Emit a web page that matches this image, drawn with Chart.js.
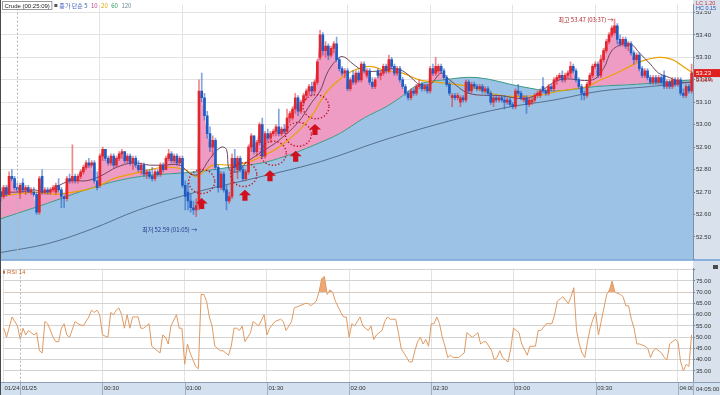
<!DOCTYPE html>
<html>
<head>
<meta charset="utf-8">
<title>Crude 1분봉</title>
<script src="https://cdn.jsdelivr.net/npm/chart.js@4.4.1/dist/chart.umd.min.js"></script>
<style>
  html, body { margin: 0; padding: 0; background: #fff; overflow: hidden; }
  #wrap { position: relative; width: 720px; height: 395px; }
  #priceCanvas { position: absolute; left: 0; top: 0; }
  #rsiCanvas { position: absolute; left: 0; top: 264px; }
  #edge { position: absolute; left: 0; top: 0; width: 1px; height: 395px; background: #4a4a4a; }
</style>
</head>
<body>
<div id="wrap">
  <canvas id="priceCanvas" width="720" height="264"></canvas>
  <canvas id="rsiCanvas" width="720" height="131"></canvas>
  <div id="edge"></div>
</div>
<script>
// 1-minute candles, minute 0 = 01/25 00:00, first candle at minute -6
const T0 = -6;
const X_MIN = -6.3, X_MAX = 245.5;

const opens = [
  52.70,52.68,52.72,52.69,52.77,52.76,52.72,52.70,52.74,52.71,52.72,52.70,
  52.70,52.69,52.61,52.77,52.70,52.71,52.70,52.71,52.70,52.73,52.71,52.68,
  52.67,52.76,52.75,52.77,52.75,52.77,52.79,52.81,52.83,52.82,52.83,52.75,
  52.73,52.86,52.89,52.85,52.83,52.86,52.82,52.85,52.87,52.88,52.84,52.86,
  52.83,52.85,52.82,52.80,52.82,52.78,52.79,52.77,52.76,52.79,52.78,52.82,
  52.80,52.85,52.87,52.84,52.86,52.83,52.85,52.73,52.70,52.66,52.63,52.62,
  52.64,53.15,53.12,53.04,52.96,52.90,52.93,52.81,52.72,52.78,52.71,52.66,
  52.68,52.85,52.80,52.85,52.80,52.76,52.79,52.90,52.95,52.88,52.92,53.00,
  52.86,52.96,52.94,52.96,52.97,52.99,52.96,52.98,52.97,53.03,53.03,53.07,
  53.12,53.06,53.10,53.13,53.15,53.17,53.15,53.19,53.30,53.40,53.33,53.35,
  53.31,53.34,53.36,53.29,53.25,53.23,53.24,53.16,53.22,53.19,53.23,53.20,
  53.27,53.22,53.24,53.19,53.17,53.24,53.22,53.23,53.26,53.24,53.29,53.26,
  53.23,53.25,53.20,53.17,53.14,53.12,53.15,53.14,53.17,53.18,53.16,53.17,
  53.15,53.25,53.23,53.24,53.26,53.24,53.21,53.18,53.12,53.13,53.12,53.10,
  53.12,53.11,53.19,53.15,53.18,53.17,53.16,53.17,53.15,53.16,53.14,53.10,
  53.12,53.11,53.12,53.11,53.10,53.11,53.09,53.08,53.15,53.14,53.11,53.12,
  53.09,53.10,53.11,53.13,53.13,53.17,53.15,53.14,53.17,53.16,53.20,53.21,
  53.22,53.20,53.22,53.23,53.26,53.24,53.20,53.17,53.14,53.13,53.18,53.22,
  53.26,53.27,53.22,53.29,53.33,53.37,53.40,53.41,53.44,53.38,53.36,53.38,
  53.35,53.36,53.32,53.29,53.31,53.25,53.22,53.24,53.21,53.19,53.21,53.19,
  53.21,53.22,53.17,53.19,53.17,53.20,53.18,53.20,53.14,53.13,53.17,53.15
];
const highs = [
  52.72,52.73,52.73,52.79,52.80,52.77,52.74,52.74,52.76,52.73,52.73,52.72,
  52.72,52.70,52.77,52.80,52.72,52.72,52.72,52.73,52.74,52.76,52.72,52.69,
  52.77,52.78,52.91,52.78,52.78,52.80,52.82,52.84,52.85,52.84,52.84,52.79,
  52.87,52.90,52.89,52.86,52.87,52.87,52.86,52.88,52.89,52.88,52.87,52.87,
  52.86,52.86,52.84,52.83,52.83,52.80,52.80,52.81,52.80,52.80,52.83,52.83,
  52.86,52.89,52.88,52.87,52.87,52.86,52.86,52.75,52.74,52.69,52.66,52.67,
  53.20,53.23,53.14,53.06,52.99,52.95,52.94,52.82,52.79,52.79,52.73,52.70,
  52.87,52.89,52.86,52.86,52.81,52.80,52.91,52.96,52.95,52.93,53.01,53.03,
  52.97,52.98,52.97,52.98,53.00,53.07,52.99,53.00,53.07,53.06,53.08,53.14,
  53.13,53.11,53.14,53.16,53.18,53.19,53.20,53.29,53.42,53.41,53.37,53.36,
  53.35,53.37,53.39,53.30,53.26,53.25,53.25,53.21,53.24,53.24,53.24,53.28,
  53.28,53.25,53.25,53.21,53.21,53.25,53.24,53.27,53.27,53.31,53.30,53.27,
  53.26,53.26,53.21,53.18,53.15,53.16,53.16,53.18,53.20,53.19,53.18,53.18,
  53.26,53.27,53.30,53.27,53.27,53.25,53.22,53.19,53.14,53.14,53.14,53.13,
  53.13,53.20,53.20,53.19,53.19,53.18,53.18,53.18,53.17,53.17,53.15,53.13,
  53.13,53.13,53.13,53.13,53.12,53.12,53.10,53.16,53.18,53.15,53.13,53.13,
  53.12,53.12,53.14,53.15,53.16,53.21,53.16,53.18,53.18,53.21,53.22,53.23,
  53.24,53.23,53.24,53.28,53.27,53.25,53.21,53.18,53.15,53.19,53.23,53.27,
  53.28,53.28,53.31,53.34,53.38,53.41,53.44,53.47,53.45,53.40,53.39,53.39,
  53.37,53.37,53.33,53.32,53.32,53.26,53.25,53.25,53.22,53.22,53.22,53.22,
  53.22,53.24,53.20,53.20,53.21,53.21,53.21,53.21,53.16,53.18,53.18,53.27
];
const lows = [
  52.66,52.67,52.68,52.69,52.75,52.71,52.70,52.67,52.70,52.69,52.70,52.69,
  52.68,52.60,52.60,52.69,52.69,52.69,52.69,52.70,52.69,52.70,52.63,52.63,
  52.66,52.74,52.74,52.74,52.74,52.76,52.78,52.80,52.81,52.81,52.74,52.71,
  52.72,52.84,52.84,52.82,52.82,52.81,52.81,52.84,52.85,52.83,52.83,52.82,
  52.80,52.81,52.79,52.78,52.77,52.76,52.76,52.75,52.75,52.77,52.77,52.79,
  52.80,52.84,52.83,52.83,52.82,52.82,52.72,52.62,52.62,52.61,52.60,52.59,
  52.62,53.10,53.02,52.94,52.88,52.86,52.80,52.70,52.71,52.70,52.62,52.65,
  52.67,52.79,52.76,52.79,52.75,52.75,52.78,52.88,52.87,52.86,52.91,52.85,
  52.85,52.93,52.92,52.95,52.95,52.95,52.95,52.96,52.96,53.01,53.02,53.05,
  53.04,53.05,53.09,53.11,53.13,53.13,53.14,53.18,53.29,53.31,53.30,53.29,
  53.30,53.32,53.28,53.24,53.22,53.21,53.15,53.15,53.18,53.18,53.19,53.19,
  53.23,53.21,53.18,53.16,53.16,53.21,53.20,53.22,53.23,53.23,53.25,53.22,
  53.22,53.19,53.16,53.13,53.11,53.11,53.13,53.13,53.16,53.15,53.15,53.14,
  53.14,53.22,53.22,53.23,53.23,53.20,53.17,53.13,53.08,53.11,53.11,53.08,
  53.10,53.10,53.14,53.14,53.16,53.15,53.15,53.14,53.14,53.13,53.09,53.08,
  53.10,53.10,53.10,53.07,53.09,53.08,53.07,53.07,53.13,53.11,53.10,53.05,
  53.08,53.09,53.10,53.12,53.12,53.14,53.13,53.13,53.15,53.15,53.18,53.20,
  53.19,53.19,53.21,53.21,53.23,53.19,53.16,53.11,53.11,53.12,53.17,53.21,
  53.25,53.21,53.21,53.28,53.32,53.36,53.39,53.40,53.36,53.35,53.35,53.34,
  53.33,53.31,53.27,53.28,53.24,53.21,53.21,53.20,53.18,53.18,53.18,53.18,
  53.18,53.16,53.16,53.16,53.16,53.17,53.17,53.13,53.12,53.12,53.14,53.14
];
const closes = [
  52.68,52.72,52.69,52.77,52.76,52.72,52.71,52.73,52.71,52.72,52.70,52.71,
  52.69,52.61,52.76,52.70,52.71,52.70,52.71,52.72,52.73,52.71,52.68,52.67,
  52.76,52.75,52.77,52.75,52.77,52.79,52.81,52.83,52.82,52.83,52.75,52.72,
  52.86,52.89,52.85,52.83,52.86,52.82,52.85,52.87,52.88,52.84,52.86,52.83,
  52.85,52.82,52.80,52.82,52.78,52.79,52.77,52.76,52.79,52.78,52.82,52.80,
  52.85,52.87,52.84,52.86,52.83,52.85,52.73,52.68,52.66,52.63,52.62,52.64,
  53.15,53.12,53.04,52.96,52.90,52.93,52.81,52.72,52.78,52.71,52.66,52.68,
  52.85,52.81,52.85,52.80,52.76,52.79,52.90,52.95,52.88,52.92,53.00,52.86,
  52.96,52.94,52.96,52.97,52.99,52.96,52.98,52.97,53.03,53.05,53.07,53.12,
  53.06,53.10,53.13,53.15,53.17,53.15,53.19,53.28,53.40,53.33,53.35,53.31,
  53.34,53.36,53.29,53.25,53.23,53.24,53.16,53.20,53.19,53.23,53.20,53.27,
  53.24,53.24,53.19,53.17,53.20,53.22,53.23,53.26,53.24,53.29,53.26,53.23,
  53.25,53.20,53.17,53.14,53.12,53.15,53.14,53.17,53.18,53.16,53.17,53.15,
  53.25,53.23,53.26,53.26,53.24,53.21,53.18,53.14,53.13,53.12,53.13,53.12,
  53.11,53.19,53.15,53.18,53.17,53.16,53.17,53.15,53.16,53.14,53.10,53.12,
  53.11,53.12,53.11,53.10,53.11,53.09,53.08,53.15,53.14,53.12,53.12,53.09,
  53.11,53.11,53.13,53.14,53.15,53.15,53.14,53.17,53.16,53.20,53.21,53.22,
  53.20,53.22,53.23,53.26,53.24,53.20,53.17,53.14,53.13,53.18,53.22,53.26,
  53.27,53.22,53.29,53.33,53.37,53.40,53.43,53.44,53.38,53.36,53.38,53.35,
  53.36,53.32,53.29,53.31,53.25,53.22,53.24,53.21,53.19,53.21,53.19,53.21,
  53.19,53.17,53.19,53.17,53.20,53.18,53.20,53.14,53.13,53.17,53.15,53.23
];

// moving averages (minute, price)
const ma60T = [-6.3, 11, 30, 45, 65, 77, 89, 95, 102, 108, 117, 126, 134, 139, 146, 155, 167, 183, 195, 210, 225, 245.5];
const ma60V = [52.58, 52.65, 52.73, 52.77, 52.79, 52.81, 52.83, 52.85, 52.88, 52.91, 52.96, 53.03, 53.08, 53.12, 53.18, 53.20, 53.21, 53.17, 53.15, 53.17, 53.18, 53.20];
const ma120T = [-6.3, 11, 27, 44, 65, 89, 110, 134, 158, 177, 195, 212, 230, 245.5];
const ma120V = [52.43, 52.47, 52.535, 52.62, 52.70, 52.77, 52.835, 52.935, 53.02, 53.075, 53.11, 53.15, 53.17, 53.19];
const ma20T = [-6.3, 6, 14, 25, 30, 35, 45, 53, 61, 65, 71, 77, 83, 89, 95, 102, 107, 112, 117, 122, 128, 134, 140, 146, 152, 164, 176, 189, 197, 207, 212, 216, 221, 226, 233, 238, 243, 245.5];
const ma20V = [52.68, 52.70, 52.69, 52.71, 52.73, 52.76, 52.79, 52.81, 52.80, 52.77, 52.82, 52.82, 52.83, 52.86, 52.90, 52.97, 53.04, 53.14, 53.20, 53.24, 53.26, 53.24, 53.23, 53.20, 53.19, 53.17, 53.13, 53.13, 53.15, 53.17, 53.20, 53.22, 53.25, 53.28, 53.30, 53.29, 53.25, 53.23];
const ma10T = [-6.3, 1, 6, 10, 19, 25, 30, 36, 42, 48, 53, 59, 63, 66, 70, 74, 76, 77, 80, 83, 89, 95, 102, 107, 110, 113, 117, 119, 122, 126, 132, 136, 140, 144, 146, 150, 154, 157, 164, 175, 186, 197, 209, 213, 216, 220, 223, 226, 230, 233, 237, 241, 245.5];
const ma10V = [52.70, 52.70, 52.71, 52.70, 52.75, 52.75, 52.77, 52.81, 52.83, 52.82, 52.82, 52.82, 52.78, 52.78, 52.85, 52.90, 52.89, 52.80, 52.79, 52.83, 52.88, 52.93, 53.01, 53.10, 53.15, 53.24, 53.30, 53.30, 53.27, 53.24, 53.24, 53.25, 53.24, 53.20, 53.18, 53.18, 53.23, 53.20, 53.14, 53.13, 53.12, 53.20, 53.20, 53.25, 53.33, 53.36, 53.36, 53.32, 53.27, 53.23, 53.21, 53.19, 53.19];

// RSI 14 (minute, value)
const rsiT = [-6,-5,-3,-1,0,1,2,3,5,6,7,8,9,10,12,13,14,15,16,17,18,20,21,23,25,26,27,28,29,30,32,33,34,35,36,37,38,39,40,41,42,43,44,45,47,48,50,51,52,53,54,55,57,58,59,60,61,62,63,64,65,66,67,68,69,70,71,73,74,76,77,78,79,80,81,82,84,85,86,87,89,90,91,93,95,96,97,99,100,102,104,105,106,108,109,110,111,112,113,114,115,117,118,119,120,121,122,124,125,127,128,129,130,132,133,134,135,137,138,139,140,142,143,144,145,146,147,148,149,150,151,152,153,154,155,156,157,158,160,161,162,163,165,166,167,168,169,170,172,173,174,175,176,178,179,180,182,183,185,186,188,189,190,192,193,194,195,196,197,198,200,201,202,203,204,205,206,207,208,209,210,211,212,214,215,216,217,219,220,221,222,223,224,225,226,228,229,230,231,232,234,235,236,237,239,240,241,242,243,244,245];
const rsiV = [54,50,59,55,49,54,51,53,51,52,44,43,57,56,50,48,48,54,56,51,50,57,56,55,59,62,61,62,60,51,50,61,60,62,63,60,54,60,54,59,59,59,54,54,56,46,44,43,51,50,47,55,60,54,54,38,47,43,40,37,36,69,69,66,59,55,46,44,44,42,46,54,54,53,55,48,52,57,56,55,60,51,54,57,58,57,53,57,63,64,65,65,64,66,70,76,77,69,71,70,66,61,59,59,50,56,55,59,55,53,55,49,51,53,57,59,58,58,52,45,43,39,39,44,48,50,47,49,46,56,56,59,56,50,46,41,42,41,41,42,43,52,50,51,52,47,48,48,44,40,41,44,41,39,45,54,52,47,42,46,46,53,53,56,56,56,60,66,67,68,65,68,72,53,47,43,41,48,54,58,61,51,57,69,71,75,70,69,68,64,64,58,54,47,47,46,45,41,44,45,43,41,40,47,49,48,39,35,38,37,51];

const tickMinutes = [X_MIN, 0, 30, 60, 90, 120, 150, 180, 210, 240];
const tickLabels = ['01/24', '01/25', '00:30', '01:00', '01:30', '02:00', '02:30', '03:00', '03:30', '04:00'];
const lastTimeLabel = '04:05:00';

// markup drawn on the price panel
const signalT = [66.97, 82.7, 91.79, 101.13, 108.14];
const signalP = [52.674, 52.710, 52.797, 52.884, 53.003];
const circleT = [67.0, 82.3, 93.0, 102.1, 108.5];
const circleP = [52.747, 52.778, 52.873, 52.957, 53.080];
const HIGH_T = 217, HIGH_P = 53.47, HIGH_TEXT = '최고 53.47 (03:37) →';
const LOW_T = 65, LOW_P = 52.59, LOW_TEXT = '최저 52.59 (01:05) →';
const CHANGE_PCT = '0.06%';

const PRICE_MIN = 52.40, PRICE_MAX = 53.535;
const RSI_MIN = 30.1, RSI_MAX = 80.5;
const AXIS_W = 27;

const FONT_NUM = '"Liberation Sans Narrow", "Liberation Sans", Arial, sans-serif';
const FONT_KR = '"Noto Sans CJK KR", "Noto Sans", sans-serif';
const UP = '#E3262B', DOWN = '#1F5BC4';
const UP_WICK = 'rgba(227,38,43,0.55)', DOWN_WICK = 'rgba(31,91,196,0.55)';
const AXIS_BG = '#D8E1EC';

const pts = (ts, vs) => ts.map((t, i) => ({ x: t, y: vs[i] }));
const isUp = i => closes[i] >= opens[i];

function xGridColor(ctx) {
  return ctx.tick && ctx.tick.value === 0 ? 'rgba(0,0,0,0)' : '#E3E3E3';
}
function dayLine(chart) {
  const { ctx, chartArea: a } = chart;
  const x = Math.round(chart.scales.x.getPixelForValue(0)) + 0.5;
  ctx.save();
  ctx.strokeStyle = '#B5B5B5';
  ctx.setLineDash([2, 2]);
  ctx.beginPath(); ctx.moveTo(x, a.top); ctx.lineTo(x, a.bottom); ctx.stroke();
  ctx.restore();
}

const priceDecor = {
  id: 'priceDecor',
  beforeDraw(chart) {
    const { ctx, chartArea: a, width, height } = chart;
    ctx.save();
    ctx.fillStyle = '#fff'; ctx.fillRect(0, 0, width, height);
    ctx.fillStyle = AXIS_BG; ctx.fillRect(a.right, 0, width - a.right, height);
    ctx.restore();
  },
  afterDatasetsDraw(chart) {
    const { ctx } = chart;
    const xs = chart.scales.x, ys = chart.scales.y;
    dayLine(chart);
    ctx.save();
    // dotted circles
    ctx.strokeStyle = '#C3121C';
    ctx.lineWidth = 1.4;
    ctx.setLineDash([1.3, 2]);
    circleT.forEach((t, i) => {
      ctx.beginPath();
      ctx.ellipse(xs.getPixelForValue(t), ys.getPixelForValue(circleP[i]), 13, 12, 0, 0, Math.PI * 2);
      ctx.stroke();
    });
    ctx.setLineDash([]);
    // up arrows
    ctx.fillStyle = '#D0101C';
    signalT.forEach((t, i) => {
      const x = xs.getPixelForValue(t), y = ys.getPixelForValue(signalP[i]);
      ctx.beginPath();
      ctx.moveTo(x, y);
      ctx.lineTo(x + 6, y + 5.5);
      ctx.lineTo(x + 2.6, y + 5.5);
      ctx.lineTo(x + 2.6, y + 11);
      ctx.lineTo(x - 2.6, y + 11);
      ctx.lineTo(x - 2.6, y + 5.5);
      ctx.lineTo(x - 6, y + 5.5);
      ctx.closePath();
      ctx.fill();
    });
    // high / low notes
    ctx.font = '6px ' + FONT_KR;
    ctx.textBaseline = 'middle';
    ctx.textAlign = 'right';
    ctx.fillStyle = '#B0222A';
    ctx.fillText(HIGH_TEXT, xs.getPixelForValue(HIGH_T) - 1, ys.getPixelForValue(HIGH_P) + 1);
    ctx.fillStyle = '#23398A';
    ctx.fillText(LOW_TEXT, xs.getPixelForValue(LOW_T) + 1, ys.getPixelForValue(LOW_P) + 13);
    ctx.restore();
  },
  afterDraw(chart) {
    const { ctx, chartArea: a, width } = chart;
    const ys = chart.scales.y;
    ctx.save();
    // header
    ctx.textBaseline = 'middle';
    ctx.textAlign = 'left';
    ctx.font = '6px ' + FONT_NUM;
    const title = 'Crude (00:25:09)';
    const tw = ctx.measureText(title).width;
    ctx.fillStyle = '#fff'; ctx.fillRect(2, 1.5, tw + 4, 8);
    ctx.strokeStyle = '#9A9A9A'; ctx.strokeRect(2.5, 1.5, tw + 4, 8);
    ctx.fillStyle = '#222'; ctx.fillText(title, 4.5, 6);
    let x = 9 + tw;
    ctx.fillStyle = '#555'; ctx.fillRect(x, 4, 3, 3);
    x += 5;
    const parts = [['종가 단순 5', '#3F5FBF'], ['10', '#B24D8C'], ['20', '#D9A400'], ['60', '#2E9A62'], ['120', '#6E8CA0']];
    ctx.font = '6px ' + FONT_KR;
    parts.forEach(([txt, col]) => {
      ctx.fillStyle = col; ctx.fillText(txt, x, 6);
      x += ctx.measureText(txt).width + 3.5;
    });
    // LC / HC
    ctx.font = '5.5px ' + FONT_NUM;
    ctx.fillStyle = AXIS_BG; ctx.fillRect(a.right + 2, 0, width - a.right - 2, 11);
    ctx.fillStyle = '#C0383C'; ctx.fillText('LC 1.20', a.right + 3, 3.5);
    ctx.fillStyle = '#2A55B0'; ctx.fillText('HC 0.15', a.right + 3, 8.5);
    // current price box
    const last = closes[closes.length - 1];
    const yp = ys.getPixelForValue(last);
    ctx.fillStyle = '#E0201E'; ctx.fillRect(a.right + 1, yp - 4, width - a.right - 1, 8);
    ctx.font = '6px ' + FONT_NUM;
    ctx.fillStyle = '#fff'; ctx.fillText(last.toFixed(2), a.right + 3, yp);
    ctx.fillStyle = '#D02020'; ctx.fillText(CHANGE_PCT, a.right + 3, yp + 7.5);
    // panel bottom line
    ctx.strokeStyle = '#6E9FD6'; ctx.lineWidth = 1.5;
    ctx.beginPath(); ctx.moveTo(0, a.bottom + 0.5); ctx.lineTo(width, a.bottom + 0.5); ctx.stroke();
    ctx.restore();
  }
};

const lineBase = { type: 'line', pointRadius: 0, borderWidth: 1, fill: false };

new Chart(document.getElementById('priceCanvas'), {
  type: 'bar',
  data: {
    datasets: [
      { // 0 wicks
        data: lows.map((l, i) => ({ x: T0 + i, y: [l, highs[i]] })),
        backgroundColor: lows.map((_, i) => isUp(i) ? UP_WICK : DOWN_WICK),
        barThickness: 1, grouped: false, order: 1
      },
      { // 1 bodies
        data: opens.map((o, i) => ({ x: T0 + i, y: [Math.min(o, closes[i]), Math.max(o, closes[i])] })),
        backgroundColor: opens.map((_, i) => isUp(i) ? UP : DOWN),
        barThickness: 2, minBarLength: 1, grouped: false, order: 0
      },
      { // 2 blue area under ma60
        ...lineBase, data: pts(ma60T, ma60V), borderWidth: 0, tension: 0.35,
        fill: 'start', backgroundColor: '#9CC3E5', order: 10
      },
      { // 3 pink band between price and ma60
        ...lineBase, data: closes.map((c, i) => ({ x: T0 + i, y: c })), borderWidth: 0,
        fill: { target: 2, above: '#EE9CC4', below: 'rgba(0,0,0,0)' }, order: 9
      },
      { ...lineBase, data: pts(ma120T, ma120V), borderColor: '#56708F', tension: 0.35, order: 5 },
      { ...lineBase, data: pts(ma60T, ma60V), borderColor: '#3A9A82', tension: 0.35, order: 4 },
      { ...lineBase, data: pts(ma20T, ma20V), borderColor: '#E8A200', borderWidth: 1.2, tension: 0.35, order: 3 },
      { ...lineBase, data: pts(ma10T, ma10V), borderColor: '#6E4660', tension: 0.35, order: 2 }
    ]
  },
  plugins: [priceDecor],
  options: {
    responsive: false,
    animation: false,
    events: [],
    layout: { padding: { top: 3, bottom: 1, left: 0, right: 0 } },
    plugins: { legend: { display: false }, tooltip: { enabled: false } },
    scales: {
      x: {
        type: 'linear', min: X_MIN, max: X_MAX, offset: false,
        afterBuildTicks: s => { s.ticks = tickMinutes.map(v => ({ value: v })); },
        ticks: { display: false },
        grid: { color: xGridColor, drawTicks: false, offset: false },
        border: { display: false }
      },
      y: {
        position: 'right', min: PRICE_MIN, max: PRICE_MAX,
        afterFit: s => { s.width = AXIS_W; },
        ticks: {
          stepSize: 0.1, includeBounds: false, padding: 1, color: '#333',
          font: { size: 6, family: FONT_NUM },
          callback: v => v < 52.45 ? '' : v.toFixed(2)
        },
        grid: { color: '#E3E3E3', tickLength: 2, tickColor: '#6B7C92' },
        border: { color: '#7D8FA5' }
      }
    }
  }
});

const rsiDecor = {
  id: 'rsiDecor',
  beforeDraw(chart) {
    const { ctx, chartArea: a, width, height } = chart;
    ctx.save();
    ctx.fillStyle = '#fff'; ctx.fillRect(0, 0, width, height);
    ctx.fillStyle = AXIS_BG; ctx.fillRect(a.right, 0, width - a.right, a.bottom);
    ctx.fillStyle = '#D3E0EF'; ctx.fillRect(0, a.bottom, width, height - a.bottom);
    ctx.restore();
  },
  afterDatasetsDraw(chart) { dayLine(chart); },
  afterDraw(chart) {
    const { ctx, chartArea: a, width, height } = chart;
    const xs = chart.scales.x;
    ctx.save();
    ctx.strokeStyle = '#8C9DB4'; ctx.lineWidth = 1;
    ctx.beginPath(); ctx.moveTo(0, a.bottom + 0.5); ctx.lineTo(width, a.bottom + 0.5); ctx.stroke();
    ctx.strokeStyle = '#9FB0C6';
    tickMinutes.slice(1).forEach(t => {
      const x = Math.round(xs.getPixelForValue(t)) + 0.5;
      ctx.beginPath(); ctx.moveTo(x, a.bottom + 1); ctx.lineTo(x, height); ctx.stroke();
    });
    ctx.beginPath(); ctx.moveTo(a.right + 0.5, a.bottom); ctx.lineTo(a.right + 0.5, height); ctx.stroke();
    ctx.font = '6px ' + FONT_NUM;
    ctx.textBaseline = 'middle';
    ctx.fillStyle = '#333';
    ctx.fillText(lastTimeLabel, a.right + 3, (a.bottom + height) / 2 + 0.5);
    // panel label
    ctx.fillStyle = '#C46A2C'; ctx.fillRect(3, a.top + 2, 2, 3);
    ctx.fillText('RSI 14', 7, a.top + 3.5);
    // small panel icon
    ctx.fillStyle = '#4A4A4A'; ctx.fillRect(width - 7, 1, 5, 4);
    ctx.restore();
  }
};

new Chart(document.getElementById('rsiCanvas'), {
  type: 'line',
  data: {
    datasets: [{
      data: pts(rsiT, rsiV), borderColor: '#E09A62', borderWidth: 1, pointRadius: 0, tension: 0,
      fill: { target: { value: 70 }, above: '#EFA874', below: 'rgba(0,0,0,0)' }
    }]
  },
  plugins: [rsiDecor],
  options: {
    responsive: false,
    animation: false,
    events: [],
    layout: { padding: { top: 2, left: 0, right: 0, bottom: 0 } },
    plugins: { legend: { display: false }, tooltip: { enabled: false } },
    scales: {
      x: {
        type: 'linear', min: X_MIN, max: X_MAX, offset: false,
        afterBuildTicks: s => { s.ticks = tickMinutes.map(v => ({ value: v })); },
        afterFit: s => { s.height = 13; },
        ticks: {
          align: 'start', autoSkip: false, maxRotation: 0, padding: 3, labelOffset: 1.5,
          color: '#333', font: { size: 6, family: FONT_NUM },
          callback: (v, i) => tickLabels[i]
        },
        grid: { color: xGridColor, drawTicks: false },
        border: { display: false }
      },
      y: {
        position: 'right', min: RSI_MIN, max: RSI_MAX,
        afterFit: s => { s.width = AXIS_W; },
        ticks: {
          stepSize: 5, includeBounds: false, padding: 1, color: '#333',
          font: { size: 6, family: FONT_NUM },
          callback: v => (v < 33 || v > 77) ? '' : v.toFixed(2)
        },
        grid: { color: '#D3D3D3', tickLength: 2, tickColor: '#6B7C92' },
        border: { color: '#7D8FA5' }
      }
    }
  }
});
</script>
</body>
</html>
